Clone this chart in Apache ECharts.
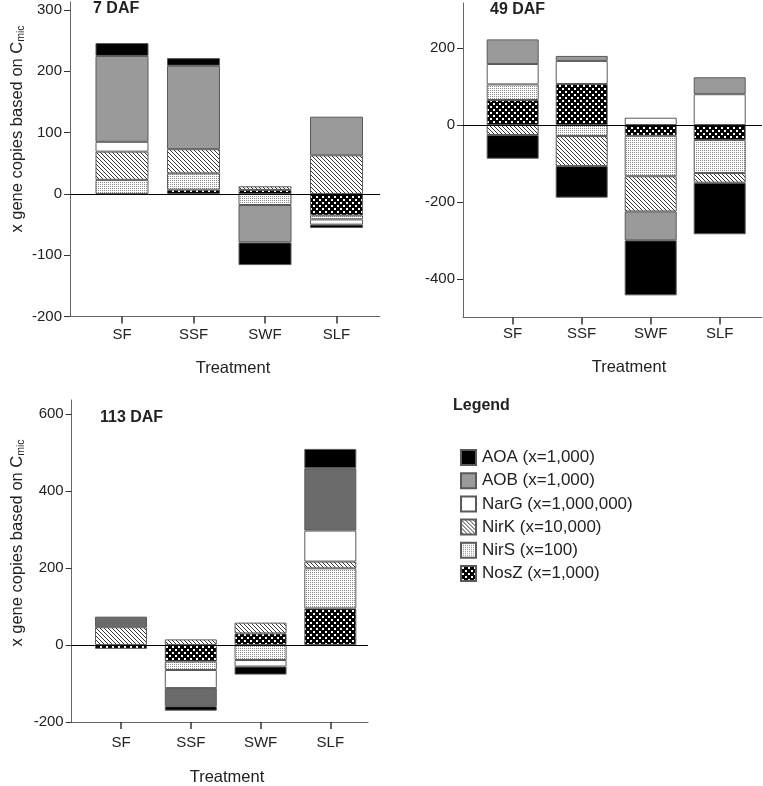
<!DOCTYPE html>
<html>
<head>
<meta charset="utf-8">
<script src="https://cdn.jsdelivr.net/npm/echarts@6/dist/echarts.min.js"></script>
<style>
html,body{margin:0;padding:0;background:#fff;}
#chart{width:763px;height:786px;}
</style>
</head>
<body>
<div id="chart"></div>
<script>
// ---------- DATA ----------
const categories = ['SF', 'SSF', 'SWF', 'SLF'];
const geneNames = ['NosZ (x=1,000)', 'NirS (x=100)', 'NirK (x=10,000)', 'NarG (x=1,000,000)', 'AOB (x=1,000)', 'AOA (x=1,000)'];
const legendOrder = ['AOA (x=1,000)', 'AOB (x=1,000)', 'NarG (x=1,000,000)', 'NirK (x=10,000)', 'NirS (x=100)', 'NosZ (x=1,000)'];
const panelTitles = ['7 DAF', '49 DAF', '113 DAF'];

// 7 DAF
const aoa7  = [21, 12.5, -37, -5.5];
const aob7  = [140, 136, -61, 63];
const narg7 = [16, 0, 0, -8.5];
const nirk7 = [46, 39.5, 6, 63];
const nirs7 = [23, 26.5, -18, -6.5];
const nosz7 = [0, 7, 6.5, -35];

// 49 DAF
const aoa49  = [-61.5, -82, -143, -134];
const aob49  = [64, 13, -75, 44];
const narg49 = [53, 60, 19, 80];
const nirk49 = [-26, -78, -91.5, -25];
const nirs49 = [40.5, -28.6, -105, -85.7];
const nosz49 = [65, 106.5, -28, -39];

// 113 DAF
const aoa113  = [0, -11.5, -21, 50];
const aob113  = [27.5, -47, 0, 162];
const narg113 = [0, -47, -17, 80.5];
const nirk113 = [46, 14.5, 28, 17.5];
const nirs113 = [0, -22, -39, 104];
const nosz113 = [-10, -43, 30, 95];

const yTicks7 = [-200, -100, 0, 100, 200, 300];
const yTicks49 = [-400, -200, 0, 200];
const yTicks113 = [-200, 0, 200, 400, 600];
const xTicks = [0, 1, 2, 3];

// ---------- STYLE ----------
function makePattern(size, draw) {
  const c = document.createElement('canvas');
  c.width = size; c.height = size;
  const ctx = c.getContext('2d');
  draw(ctx, size);
  return { image: c, repeat: 'repeat' };
}
const patNirK = makePattern(4, (ctx, s) => {
  ctx.fillStyle = '#fff'; ctx.fillRect(0, 0, s, s);
  ctx.fillStyle = '#333';
  for (let i = 0; i < s; i++) ctx.fillRect(i, i, 1, 1);
});
const patNirS = makePattern(2, (ctx, s) => {
  ctx.fillStyle = '#fff'; ctx.fillRect(0, 0, s, s);
  ctx.fillStyle = '#8a8a8a'; ctx.fillRect(0, 0, 1, 1);
});
const patNosZ = makePattern(6, (ctx, s) => {
  ctx.fillStyle = '#000'; ctx.fillRect(0, 0, s, s);
  ctx.fillStyle = '#fff';
  ctx.fillRect(1, 1, 2, 2);
  ctx.fillRect(4, 4, 2, 2);
});

const FONT = 'Liberation Sans, Arial, sans-serif';
const AXIS_COLOR = '#666';
const TEXT_COLOR = '#222';

const panels = [
  { data: [nosz7, nirs7, nirk7, narg7, aob7, aoa7], ticks: yTicks7,
    grid: { left: 70, top: 2, width: 310, height: 314.6 },
    xr: [-0.727, 3.608], yr: [-200, 313], barWidth: 53, labelMargin: 11, aobColor: '#9a9a9a' },
  { data: [nosz49, nirs49, nirk49, narg49, aob49, aoa49], ticks: yTicks49,
    grid: { left: 463, top: 3, width: 299, height: 314.5 },
    xr: [-0.72, 3.613], yr: [-500, 317], barWidth: 52, labelMargin: 9, aobColor: '#9a9a9a' },
  { data: [nosz113, nirs113, nirk113, narg113, aob113, aoa113], ticks: yTicks113,
    grid: { left: 71.7, top: 400, width: 296.3, height: 322 },
    xr: [-0.707, 3.54], yr: [-200, 636], barWidth: 52, labelMargin: 13, aobColor: '#6b6b6b' }
];

const grids = [], xAxes = [], yAxes = [], series = [];
panels.forEach((p, pi) => {
  grids.push(Object.assign({ outerBoundsMode: 'none', containLabel: false }, p.grid));
  xAxes.push({
    type: 'value', gridIndex: pi, min: p.xr[0], max: p.xr[1],
    splitLine: { show: false },
    axisLine: { show: true, onZero: false, lineStyle: { color: AXIS_COLOR, width: 1 } },
    axisTick: { show: true, length: 7, customValues: xTicks, lineStyle: { color: '#333', width: 1.5 } },
    axisLabel: { customValues: xTicks, margin: p.labelMargin, fontSize: 15, color: TEXT_COLOR, fontFamily: FONT,
      formatter: v => categories[Math.round(v)] }
  });
  yAxes.push({
    type: 'value', gridIndex: pi, min: p.yr[0], max: p.yr[1],
    splitLine: { show: false },
    axisLine: { show: true, onZero: false, lineStyle: { color: AXIS_COLOR, width: 1 } },
    axisTick: { show: true, length: 6, customValues: p.ticks, lineStyle: { color: '#333', width: 1 } },
    axisLabel: { customValues: p.ticks, margin: 8, fontSize: 15, color: TEXT_COLOR, fontFamily: FONT }
  });
  const colors = [patNosZ, patNirS, patNirK, '#ffffff', p.aobColor, '#000000'];
  p.data.forEach((vals, si) => {
    const s = {
      type: 'bar', name: geneNames[si], xAxisIndex: pi, yAxisIndex: pi,
      stack: 'panel' + pi, barWidth: p.barWidth,
      // value first so that stacking happens on the y (value) dimension
      encode: { x: 1, y: 0 },
      itemStyle: { color: colors[si], borderColor: '#5a5a5a', borderWidth: 1 },
      emphasis: { disabled: true },
      data: vals.map((v, i) => [v === 0 ? null : v, i])
    };
    if (si === 0) {
      s.markLine = {
        silent: true, symbol: 'none', label: { show: false },
        lineStyle: { color: '#000', width: 1, type: 'solid' },
        emphasis: { disabled: true },
        data: [{ yAxis: 0 }], z: 10
      };
    }
    series.push(s);
  });
});

function txt(x, y, text, opts) {
  return {
    type: 'text', x: x, y: y, z: 100,
    style: Object.assign({ text: text, fill: TEXT_COLOR, font: '16px ' + FONT, align: 'center', verticalAlign: 'middle' }, opts || {})
  };
}
function yName(x, y) {
  return {
    type: 'text', x: x, y: y, rotation: Math.PI / 2, z: 100,
    style: {
      text: '{a|x gene copies based on C}{b|mic}',
      align: 'center', verticalAlign: 'middle',
      rich: {
        a: { fontSize: 16.5, fontFamily: FONT, fill: TEXT_COLOR, lineHeight: 20 },
        b: { fontSize: 10.5, fontFamily: FONT, fill: TEXT_COLOR, lineHeight: 20, verticalAlign: 'bottom', padding: [6, 0, 0, 0] }
      }
    }
  };
}

const graphic = [
  txt(93, 9, panelTitles[0], { font: 'bold 16px ' + FONT, align: 'left' }),
  txt(490, 9.5, panelTitles[1], { font: 'bold 16px ' + FONT, align: 'left' }),
  txt(100, 418, panelTitles[2], { font: 'bold 16px ' + FONT, align: 'left' }),
  txt(453, 406, 'Legend', { font: 'bold 16px ' + FONT, align: 'left' }),
  txt(233, 368, 'Treatment', { font: '16.5px ' + FONT }),
  txt(629, 367, 'Treatment', { font: '16.5px ' + FONT }),
  txt(227, 777, 'Treatment', { font: '16.5px ' + FONT }),
  yName(17, 129),
  yName(17, 543)
];

const chart = echarts.init(document.getElementById('chart'), null, { renderer: 'canvas' });
chart.setOption({
  animation: false,
  backgroundColor: '#fff',
  textStyle: { fontFamily: FONT },
  grid: grids,
  xAxis: xAxes,
  yAxis: yAxes,
  legend: {
    data: legendOrder, orient: 'vertical', left: 460, top: 449, padding: 0,
    icon: 'rect', itemWidth: 15, itemHeight: 15, itemGap: 6.2,
    selectedMode: false,
    textStyle: { fontSize: 17, color: TEXT_COLOR, fontFamily: FONT, padding: [0, 0, 0, 1] }
  },
  graphic: graphic,
  series: series
});
</script>
</body>
</html>
